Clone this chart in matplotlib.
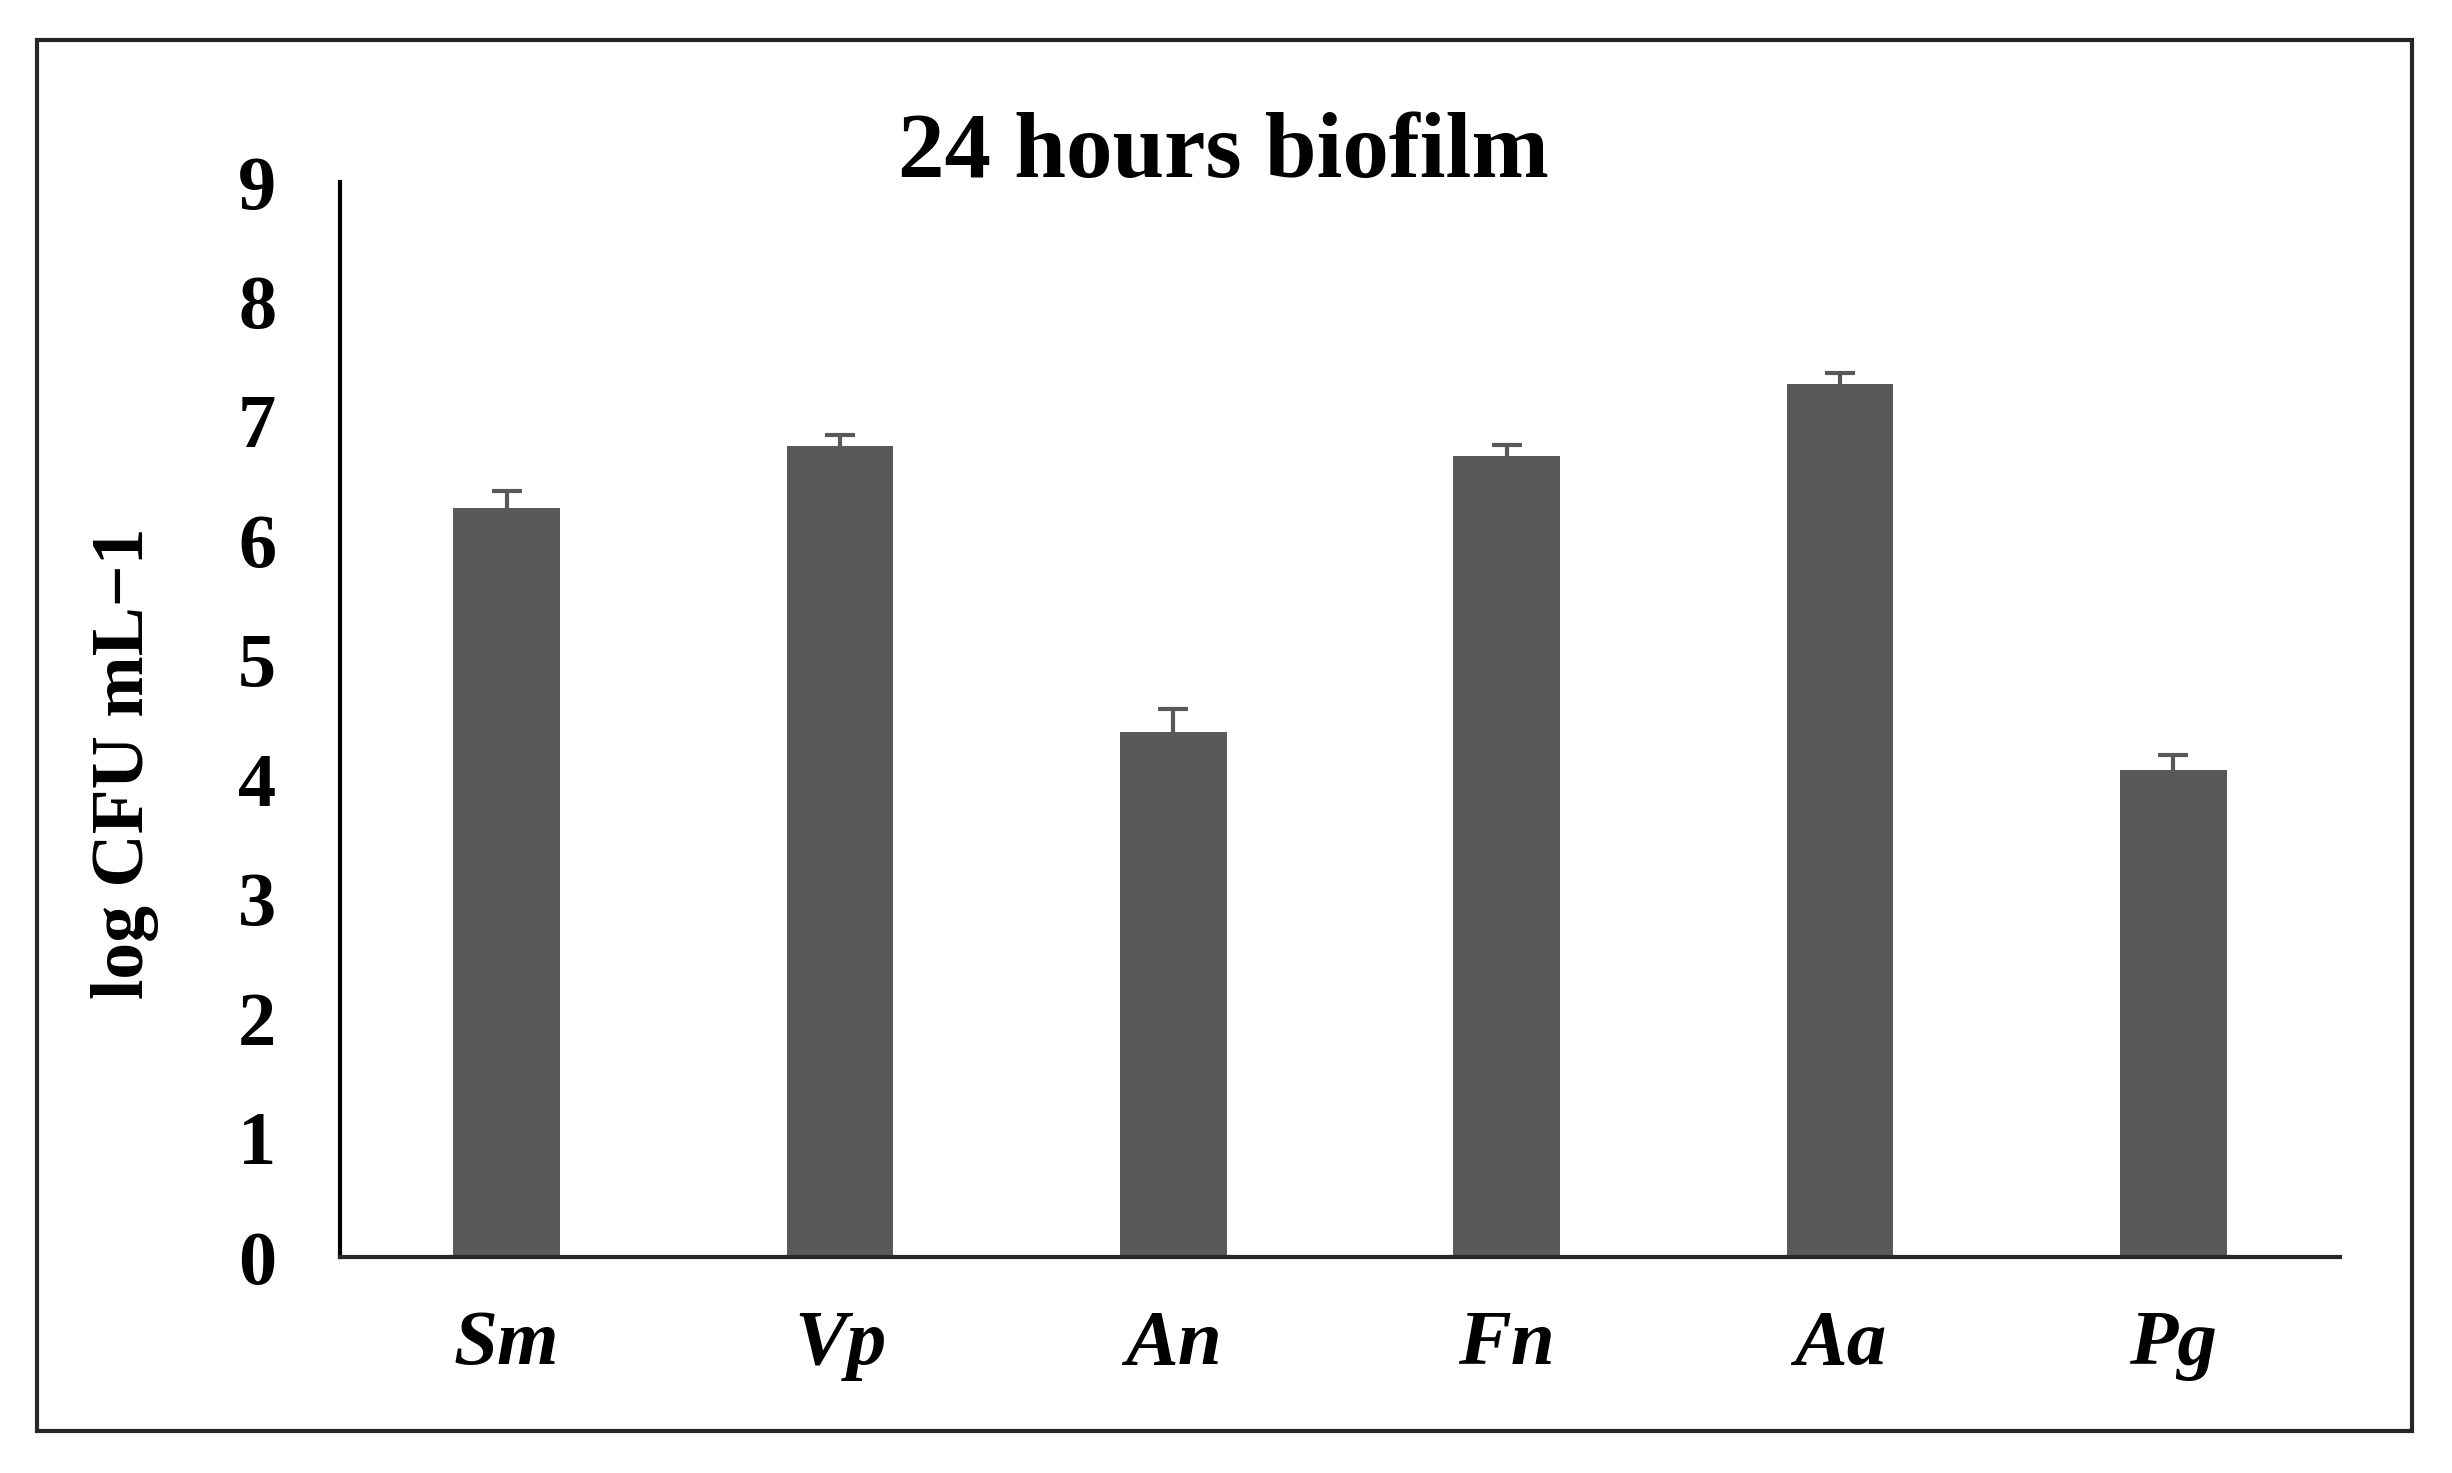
import numpy as np
import matplotlib
matplotlib.use("Agg")
import matplotlib.pyplot as plt
from matplotlib.patches import Rectangle

# Data
species = ["Sm", "Vp", "An", "Fn", "Aa", "Pg"]
log_cfu = [6.27, 6.79, 4.40, 6.71, 7.31, 4.08]
err = [0.14, 0.09, 0.19, 0.09, 0.09, 0.12]
yticks = [0, 1, 2, 3, 4, 5, 6, 7, 8, 9]

plt.rcParams["font.family"] = ["Liberation Serif", "DejaVu Serif"]
plt.rcParams["font.weight"] = "bold"

fig = plt.figure(figsize=(24.52, 14.73), dpi=100)
ax = fig.add_axes([0.1387, 0.1466, 0.8156, 0.7298])

bar_col = "#595959"
x = np.arange(len(species))
ax.bar(x, log_cfu, width=0.32, color=bar_col, zorder=2)
ax.errorbar(x, log_cfu, yerr=err, fmt="none", ecolor=bar_col,
            elinewidth=3, capsize=11, capthick=3, zorder=3)

ax.set_xlim(-0.5, len(species) - 0.5)
ax.set_ylim(0, 9)
ax.set_yticks(yticks)
ax.set_yticklabels([str(v) for v in yticks], fontsize=55, fontweight="bold")
ax.set_xticks(x)
ax.set_xticklabels(species, fontsize=57, fontweight="bold", style="italic")
ax.tick_params(axis="y", length=0, pad=46)
ax.tick_params(axis="x", length=0, pad=38)

for s in ["top", "right"]:
    ax.spines[s].set_visible(False)
ax.spines["left"].set_linewidth(3)
ax.spines["bottom"].set_linewidth(3)
ax.spines["left"].set_color("black")
ax.spines["bottom"].set_color("#262626")

fig.text(0.499, 0.880, "24 hours biofilm", ha="center", va="baseline",
         fontsize=67, fontweight="bold")
fig.text(0.051, 0.482, "log CFU mL\u22121", rotation=90, ha="center",
         va="center", fontsize=53, fontweight="bold")

# outer frame around the whole chart
frame = Rectangle((37 / 2452, 1 - 1431 / 1473), (2412 - 37) / 2452,
                  (1431 - 40) / 1473, transform=fig.transFigure,
                  fill=False, edgecolor="#262626", linewidth=3)
fig.patches.append(frame)

fig.savefig("out.png", dpi=100)
